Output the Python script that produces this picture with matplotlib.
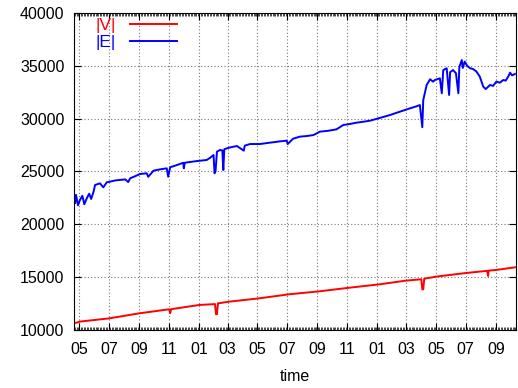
import numpy as np
import pandas as pd
import matplotlib
matplotlib.use("Agg")
import matplotlib.pyplot as plt
import matplotlib.dates as mdates

plt.rcParams['font.family'] = ['Liberation Sans', 'DejaVu Sans']

start = pd.Timestamp("2010-05-01")

# |E| : days since start, value
e_day = [-11, -9, -7, -3, 1, 6, 10, 15, 20, 24, 29, 32, 42, 49, 56, 63, 73, 83, 94, 100,
         104, 114, 124, 138, 141, 152, 165, 179, 182, 186, 196, 206, 213, 214, 216, 227,
         241, 261, 268, 275, 277, 279, 282, 288, 293, 295, 297, 302, 311, 323, 337, 339,
         350, 370, 391, 411, 425, 427, 438, 452, 465, 480, 493, 510, 527, 541, 555, 568,
         581, 596, 613, 626, 637, 657, 678, 690, 698, 703, 705, 712, 719, 725, 729, 739,
         743, 746, 753, 758, 760, 766, 772, 777, 779, 784, 786, 790, 795, 801, 807, 814,
         821, 828, 833, 842, 848, 855, 862, 869, 874, 879, 883, 887, 893]
e_val = [22500, 22000, 22800, 21800, 22300, 22700, 21900, 22460, 22900, 22400, 23090, 23720,
         23880, 23500, 23980, 24040, 24150, 24200, 24250, 24000, 24360, 24550, 24760, 24830,
         24500, 25080, 25200, 25300, 24500, 25400, 25550, 25710, 25830, 25300, 25830, 25900,
         25990, 26090, 26300, 26560, 24830, 25000, 26880, 27030, 27000, 25140, 27100, 27190,
         27300, 27410, 26970, 27450, 27600, 27600, 27730, 27850, 27920, 27600, 28100, 28300,
         28350, 28450, 28770, 28850, 28990, 29400, 29500, 29620, 29700, 29810, 30030, 30200,
         30350, 30660, 30980, 31150, 31290, 29190, 31770, 33190, 33730, 33500, 33660, 33820,
         32400, 34600, 34770, 32240, 34400, 34600, 34300, 32400, 34900, 35550, 34800, 35400,
         35000, 34770, 34700, 34460, 33970, 33030, 32800, 33190, 33100, 33510, 33400, 33660,
         33600, 33970, 34350, 34100, 34230]

# |V|
v_day = [-11, -5, 0, 61, 123, 184, 186, 188, 246, 278, 280, 282, 284, 307, 369, 430, 492,
         553, 615, 669, 701, 703, 705, 707, 731, 792, 836, 838, 839, 854, 893]
v_val = [10650, 10700, 10790, 11100, 11580, 11960, 11600, 11970, 12370, 12450, 11490, 11500,
         12520, 12680, 13000, 13380, 13660, 14000, 14320, 14670, 14800, 13850, 13850, 14850,
         15050, 15390, 15600, 15110, 15620, 15680, 15930]

e_t = start + pd.to_timedelta(e_day, unit="D")
v_t = start + pd.to_timedelta(v_day, unit="D")

fig = plt.figure(figsize=(5.18, 3.88), dpi=100)
ax = fig.add_axes([0.143, 0.1495, 0.853, 0.817])

ax.plot(v_t, v_val, color="#ff0000", lw=1.4, label="|V|")
ax.plot(e_t, e_val, color="#0000ff", lw=1.4, label="|E|")

ax.set_xlim(start - pd.Timedelta(days=11), start + pd.Timedelta(days=895))
ax.set_ylim(10000, 40000)
ax.set_yticks(np.arange(10000, 40001, 5000))
ax.xaxis.set_major_locator(mdates.MonthLocator(bymonth=[1, 3, 5, 7, 9, 11]))
ax.xaxis.set_major_formatter(mdates.DateFormatter("%m"))
ax.xaxis.set_minor_locator(mdates.DayLocator(interval=3))

ax.tick_params(which="major", direction="in", top=True, right=True, length=5,
               labelsize=11.5)
ax.tick_params(axis="x", which="major", pad=9)
ax.tick_params(axis="y", which="major", pad=7)
ax.tick_params(which="minor", direction="in", top=True, length=2.5, width=0.5)
ax.grid(True, which="major", color="#777777", linestyle=(0, (1, 2)), lw=0.8)
ax.set_xlabel("time", fontsize=11.5, labelpad=8)

leg = ax.legend(loc="upper left", frameon=False, markerfirst=False, handlelength=2.7,
                fontsize=12.5, bbox_to_anchor=(0.012, 1.035), labelspacing=0.15,
                handletextpad=0.85)
for txt, c in zip(leg.get_texts(), ["#ff0000", "#0000ff"]):
    txt.set_color(c)

fig.savefig("out.png", dpi=100)
